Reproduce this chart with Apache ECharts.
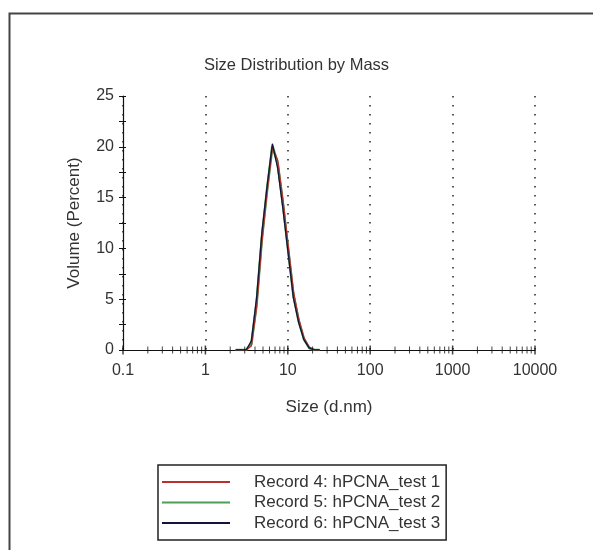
<!DOCTYPE html>
<html>
<head>
<meta charset="utf-8">
<script src="https://cdn.jsdelivr.net/npm/echarts@6/dist/echarts.min.js"></script>
<style>
  html, body { margin: 0; padding: 0; background: #ffffff; }
  #chart { width: 593px; height: 550px; }
</style>
</head>
<body>
<div id="chart"></div>
<script>
// Hydrodynamic size bins (d.nm) around the peak
const sizes = [2.328, 2.696, 3.122, 3.615, 4.187, 4.849, 5.615, 6.503, 7.531, 8.721, 10.1, 11.7, 13.54, 15.69, 18.17, 21.04, 24.36];

// Volume (%) per bin for each record
const record4 = [0, 0, 0, 0.4, 4.2, 10.6, 15.6, 19.9, 18.7, 14.8, 10.3, 5.8, 3.1, 1.2, 0.3, 0, 0];
const record5 = [0, 0, 0, 0.6, 4.6, 11.0, 15.8, 20.1, 18.4, 14.4, 9.9, 5.4, 2.9, 1.1, 0.2, 0, 0];
const record6 = [0, 0, 0, 0.9, 5.2, 11.6, 16.2, 20.3, 17.9, 13.9, 9.5, 5.1, 2.7, 1.0, 0.2, 0, 0];

const seriesNames = ['Record 4: hPCNA_test 1', 'Record 5: hPCNA_test 2', 'Record 6: hPCNA_test 3'];
const seriesColors = ['#b8312f', '#4f9e55', '#14143a'];
const seriesWidths = [1.3, 2.6, 1.3];
const seriesZ = [5, 4, 6];

// Axis ticks and labels
const xTickLabels = ['0.1', '1', '10', '100', '1000', '10000'];
const decades = [0.1, 1, 10, 100, 1000];
const minorSteps = [2, 3, 4, 5, 6, 7, 8, 9];

const font = 'Liberation Sans, Arial, sans-serif';
const textColor = '#333333';

const pair = (xs, ys) => xs.map((x, i) => [x, ys[i]]);

// Minor log ticks drawn as small crossing bars sitting on the x axis
const minorTickPoints = [];
decades.forEach(d => minorSteps.forEach(m => minorTickPoints.push([d * m, 0])));
const majorTickPoints = decades.concat([10000]).map(d => [d, 0]);

const chart = echarts.init(document.getElementById('chart'), null, { renderer: 'canvas' });

const lineSeries = [record4, record5, record6].map((vals, i) => ({
  name: seriesNames[i],
  type: 'line',
  data: pair(sizes, vals),
  showSymbol: false,
  symbol: 'none',
  smooth: false,
  lineStyle: { color: seriesColors[i], width: seriesWidths[i] },
  itemStyle: { color: seriesColors[i] },
  z: seriesZ[i]
}));

chart.setOption({
  animation: false,
  backgroundColor: '#ffffff',
  textStyle: { fontFamily: font },
  title: {
    text: 'Size Distribution by Mass',
    left: 'center',
    top: 52,
    textStyle: { fontFamily: font, fontSize: 16.5, fontWeight: 'normal', color: textColor }
  },
  graphic: [{
    type: 'rect',
    shape: { x: 9.5, y: 13.5, width: 620, height: 600 },
    style: { fill: 'none', stroke: '#444444', lineWidth: 2 },
    silent: true
  }],
  legend: {
    orient: 'vertical',
    left: 158,
    top: 465,
    data: seriesNames,
    itemWidth: 68,
    itemHeight: 14,
    itemGap: 3.5,
    padding: [8.5, 6, 8.5, 3],
    borderColor: '#222222',
    borderWidth: 1.5,
    backgroundColor: '#ffffff',
    itemStyle: { opacity: 0 },
    textStyle: { fontFamily: font, fontSize: 17, lineHeight: 17, color: textColor, padding: [0, 0, 0, 19] }
  },
  grid: { left: 123, right: 58, top: 96, bottom: 200, containLabel: false },
  xAxis: [{
    type: 'log',
    logBase: 10,
    min: 0.1,
    max: 10000,
    name: 'Size (d.nm)',
    nameLocation: 'middle',
    nameGap: 49,
    nameTextStyle: { fontFamily: font, fontSize: 17, color: textColor },
    axisLine: { show: true, onZero: false, lineStyle: { color: '#111111', width: 1.2 } },
    axisTick: { show: false },
    axisLabel: {
      margin: 13,
      fontFamily: font,
      fontSize: 16,
      color: textColor,
      formatter: v => xTickLabels[Math.round(Math.log10(v)) + 1]
    },
    splitLine: { show: true, lineStyle: { color: '#222222', width: 1.5, type: [1.5, 7.5] } }
  }],
  yAxis: [{
    type: 'value',
    min: 0,
    max: 25,
    interval: 5,
    name: 'Volume (Percent)',
    nameLocation: 'middle',
    nameGap: 40,
    nameRotate: 90,
    nameTextStyle: { fontFamily: font, fontSize: 17, color: textColor },
    axisLine: { show: true, lineStyle: { color: '#111111', width: 1.2 } },
    axisTick: { show: true, length: 4, lineStyle: { color: '#111111' } },
    minorTick: { show: true, splitNumber: 2, length: 4, lineStyle: { color: '#111111' } },
    axisLabel: { margin: 9, fontFamily: font, fontSize: 16, color: textColor },
    splitLine: { show: false }
  }, {
    type: 'value',
    position: 'left',
    min: 0,
    max: 25,
    interval: 5,
    axisLine: { show: false },
    axisTick: { show: true, inside: true, length: 3, lineStyle: { color: '#111111' } },
    minorTick: { show: true, splitNumber: 2, length: 3, lineStyle: { color: '#111111' } },
    axisLabel: { show: false },
    splitLine: { show: false }
  }],
  series: lineSeries.concat([{
    type: 'scatter',
    data: minorTickPoints,
    symbol: 'rect',
    symbolSize: [1, 7],
    itemStyle: { color: '#111111' },
    clip: false,
    silent: true,
    z: 10
  }, {
    type: 'scatter',
    data: majorTickPoints,
    symbol: 'rect',
    symbolSize: [1.5, 9],
    itemStyle: { color: '#111111' },
    clip: false,
    silent: true,
    z: 10
  }])
});
</script>
</body>
</html>
